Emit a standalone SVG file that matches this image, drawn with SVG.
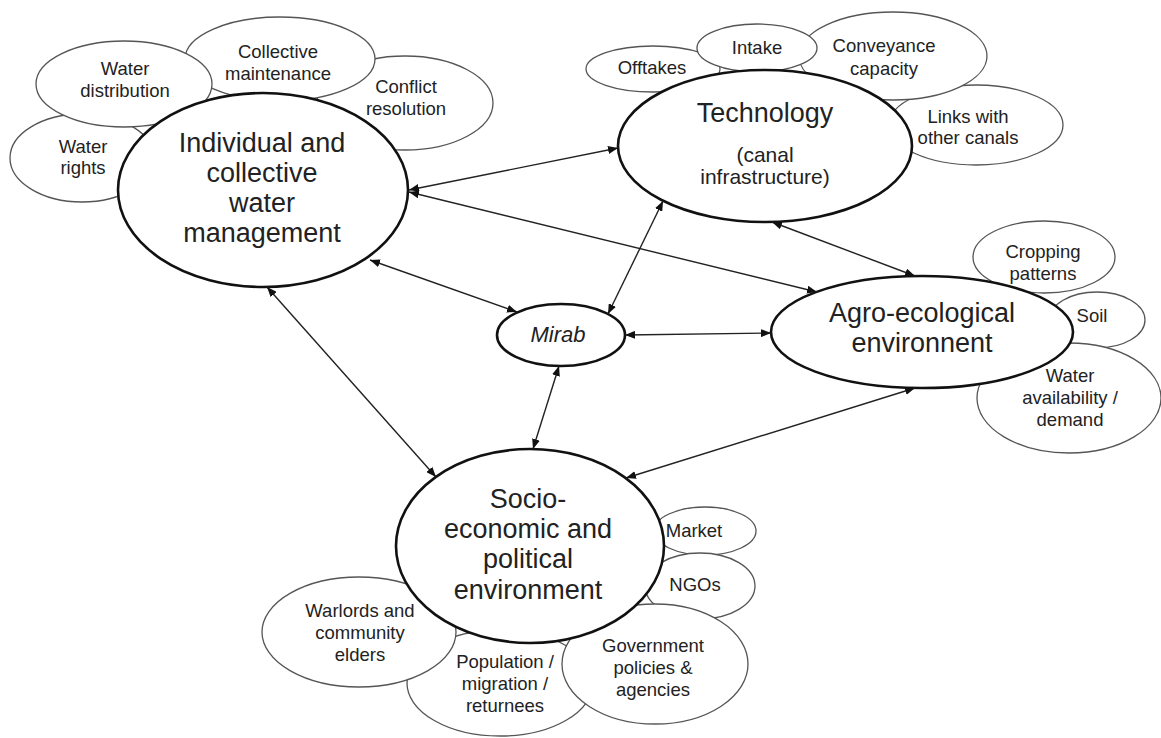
<svg xmlns="http://www.w3.org/2000/svg" width="1161" height="738" viewBox="0 0 1161 738">
  <style>
    .sub { fill: #fff; stroke: #555; stroke-width: 1.3; }
    .main { fill: #fff; stroke: #111; stroke-width: 2.6; }
    text { font-family: "Liberation Sans", Arial, sans-serif; fill: #222; text-anchor: middle; }
    .s { font-size: 18.5px; }
    .m { font-size: 27px; }
    .t { font-size: 21px; }
    .mirab { font-size: 22px; font-style: italic; }
    .link { stroke: #222; stroke-width: 1.4; fill: none; marker-start: url(#head); marker-end: url(#head); }
  </style>
  <defs>
    <marker id="head" viewBox="0 0 10 8" refX="10" refY="4" markerWidth="10" markerHeight="8" markerUnits="userSpaceOnUse" orient="auto-start-reverse">
      <path d="M0,0 L10,4 L0,8 z" fill="#111"/>
    </marker>
  </defs>

  <!-- Water management cluster -->
  <g id="conflict-resolution">
    <ellipse class="sub" cx="405" cy="103" rx="88" ry="47"/>
    <text class="s" x="406" y="93">Conflict</text>
    <text class="s" x="406" y="115">resolution</text>
  </g>
  <g id="collective-maintenance">
    <ellipse class="sub" cx="280" cy="59" rx="95" ry="42"/>
    <text class="s" x="278" y="58">Collective</text>
    <text class="s" x="278" y="80">maintenance</text>
  </g>
  <g id="water-rights">
    <ellipse class="sub" cx="82" cy="158" rx="72" ry="44"/>
    <text class="s" x="83" y="153">Water</text>
    <text class="s" x="83" y="174">rights</text>
  </g>
  <g id="water-distribution">
    <ellipse class="sub" cx="124" cy="84" rx="88" ry="43"/>
    <text class="s" x="125" y="75">Water</text>
    <text class="s" x="125" y="97">distribution</text>
  </g>
  <g id="water-management">
    <ellipse class="main" cx="263" cy="190" rx="145" ry="97"/>
    <text class="m" x="262" y="152">Individual and</text>
    <text class="m" x="262" y="182">collective</text>
    <text class="m" x="262" y="212">water</text>
    <text class="m" x="262" y="242">management</text>
  </g>

  <!-- Technology cluster -->
  <g id="links-other-canals">
    <ellipse class="sub" cx="976" cy="125" rx="87" ry="40"/>
    <text class="s" x="968" y="123">Links with</text>
    <text class="s" x="968" y="144">other canals</text>
  </g>
  <g id="conveyance-capacity">
    <ellipse class="sub" cx="893" cy="56" rx="94" ry="44"/>
    <text class="s" x="884" y="52">Conveyance</text>
    <text class="s" x="884" y="75">capacity</text>
  </g>
  <g id="offtakes">
    <ellipse class="sub" cx="653" cy="69" rx="67" ry="23"/>
    <text class="s" x="652" y="74">Offtakes</text>
  </g>
  <g id="intake">
    <ellipse class="sub" cx="757" cy="48" rx="60" ry="24"/>
    <text class="s" x="757" y="54">Intake</text>
  </g>
  <g id="technology">
    <ellipse class="main" cx="765" cy="146" rx="147" ry="76"/>
    <text class="m" x="765" y="122">Technology</text>
    <text class="t" x="765" y="162">(canal</text>
    <text class="t" x="765" y="184">infrastructure)</text>
  </g>

  <!-- Agro-ecological cluster -->
  <g id="soil">
    <ellipse class="sub" cx="1097" cy="320" rx="48" ry="28"/>
    <text class="s" x="1092" y="322">Soil</text>
  </g>
  <g id="cropping-patterns">
    <ellipse class="sub" cx="1044" cy="257" rx="71" ry="36"/>
    <text class="s" x="1043" y="258">Cropping</text>
    <text class="s" x="1043" y="280">patterns</text>
  </g>
  <g id="water-availability">
    <ellipse class="sub" cx="1069" cy="398" rx="92" ry="55"/>
    <text class="s" x="1070" y="382">Water</text>
    <text class="s" x="1070" y="404">availability /</text>
    <text class="s" x="1070" y="426">demand</text>
  </g>
  <g id="agro-ecological">
    <ellipse class="main" cx="922" cy="332" rx="151" ry="56"/>
    <text class="m" x="922" y="322">Agro-ecological</text>
    <text class="m" x="922" y="352">environnent</text>
  </g>

  <!-- Socio-economic cluster -->
  <g id="market">
    <ellipse class="sub" cx="705" cy="531" rx="51" ry="24"/>
    <text class="s" x="694" y="537">Market</text>
  </g>
  <g id="ngos">
    <ellipse class="sub" cx="700" cy="586" rx="55" ry="33"/>
    <text class="s" x="695" y="591">NGOs</text>
  </g>
  <g id="population">
    <ellipse class="sub" cx="500" cy="683" rx="93" ry="53"/>
    <text class="s" x="505" y="668">Population /</text>
    <text class="s" x="505" y="690">migration /</text>
    <text class="s" x="505" y="712">returnees</text>
  </g>
  <g id="warlords-elders">
    <ellipse class="sub" cx="359" cy="632" rx="97" ry="55"/>
    <text class="s" x="360" y="617">Warlords and</text>
    <text class="s" x="360" y="639">community</text>
    <text class="s" x="360" y="661">elders</text>
  </g>
  <g id="government">
    <ellipse class="sub" cx="655" cy="664" rx="93" ry="60"/>
    <text class="s" x="653" y="652">Government</text>
    <text class="s" x="653" y="674">policies &amp;</text>
    <text class="s" x="653" y="696">agencies</text>
  </g>
  <g id="socio-economic">
    <ellipse class="main" cx="530" cy="546" rx="134" ry="97"/>
    <text class="m" x="528" y="508">Socio-</text>
    <text class="m" x="528" y="538">economic and</text>
    <text class="m" x="528" y="568">political</text>
    <text class="m" x="528" y="599">environment</text>
  </g>

  <!-- Central actor -->
  <g id="mirab">
    <ellipse class="main" cx="561" cy="335" rx="64" ry="31"/>
    <text class="mirab" x="558" y="342">Mirab</text>
  </g>

  <!-- Two-way relations -->
  <g id="connectors">
    <line class="link" x1="409" y1="190" x2="618" y2="148"/>
    <line class="link" x1="409" y1="192" x2="817" y2="292"/>
    <line class="link" x1="370" y1="260" x2="517" y2="312"/>
    <line class="link" x1="267" y1="287" x2="436" y2="477"/>
    <line class="link" x1="663" y1="201" x2="608" y2="314"/>
    <line class="link" x1="772" y1="222" x2="915" y2="276"/>
    <line class="link" x1="625" y1="335" x2="771" y2="333"/>
    <line class="link" x1="559" y1="366" x2="533" y2="449"/>
    <line class="link" x1="626" y1="478" x2="915" y2="388"/>
  </g>
</svg>
